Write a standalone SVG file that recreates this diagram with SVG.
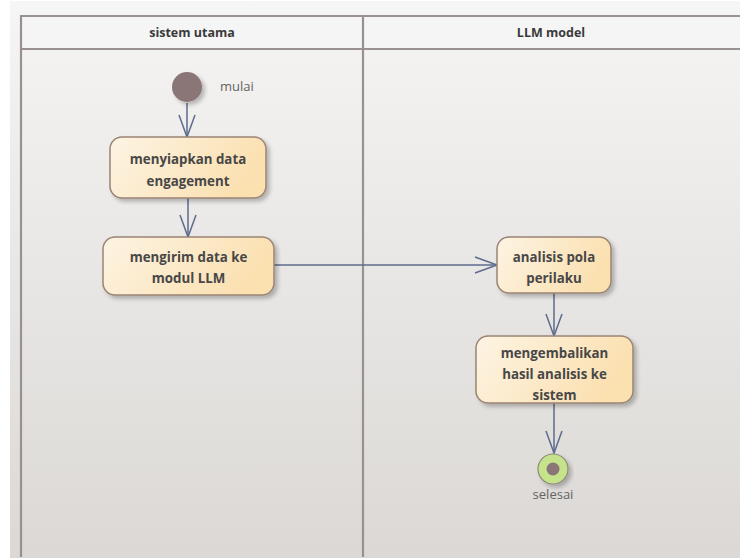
<svg xmlns="http://www.w3.org/2000/svg" width="740" height="560" viewBox="0 0 740 560">
<defs>
<linearGradient id="bg" x1="0" y1="0" x2="0" y2="1">
<stop offset="0" stop-color="#f6f6f6"/>
<stop offset="0.1" stop-color="#f3f2f1"/>
<stop offset="1" stop-color="#dbd8d5"/>
</linearGradient>
<linearGradient id="act" x1="0" y1="0" x2="1" y2="0.3">
<stop offset="0" stop-color="#fdf4e4"/>
<stop offset="1" stop-color="#fbe0b0"/>
</linearGradient>
<filter id="sh" x="-20%" y="-20%" width="140%" height="150%">
<feGaussianBlur in="SourceAlpha" stdDeviation="2"/>
<feOffset dx="3" dy="3" result="o"/>
<feComponentTransfer><feFuncA type="linear" slope="0.25"/></feComponentTransfer>
<feMerge><feMergeNode/><feMergeNode in="SourceGraphic"/></feMerge>
</filter>
<marker id="arr" markerWidth="26" markerHeight="20" refX="23" refY="10" orient="auto" markerUnits="userSpaceOnUse">
<path d="M1,2 L23,10 L1,18" fill="none" stroke="#5d6b8c" stroke-width="1.5"/>
</marker>
<style>
.lane{stroke:#999090;stroke-width:2.2;fill:none}
.hdr{font-family:"Open Sans","DejaVu Sans",sans-serif;font-size:12.5px;font-weight:bold;fill:#3a3a3a;text-anchor:middle}
.box{fill:url(#act);stroke:#9a8474;stroke-width:1.5}
.lbl{font-family:"Open Sans","DejaVu Sans",sans-serif;font-size:13.3px;font-weight:bold;fill:#474747;text-anchor:middle}
.nm{font-family:"Open Sans","DejaVu Sans",sans-serif;font-size:13px;fill:#636363}
.con{stroke:#5d6b8c;stroke-width:1.5;fill:none;marker-end:url(#arr)}
</style>
</defs>
<rect x="0" y="0" width="740" height="560" fill="#ffffff"/>
<rect x="10" y="1" width="730" height="557" fill="url(#bg)"/>
<rect x="21" y="16" width="719" height="33" fill="#f5f5f5"/>
<g id="lanes">
<line class="lane" x1="21" y1="16" x2="740" y2="16"/>
<line class="lane" x1="21" y1="49" x2="740" y2="49"/>
<line class="lane" x1="21" y1="15" x2="21" y2="557"/>
<line class="lane" x1="363" y1="15" x2="363" y2="557"/>
<text class="hdr" x="192" y="37">sistem utama</text>
<text class="hdr" x="551" y="37">LLM model</text>
</g>
<g id="connectors">
<line class="con" x1="187" y1="103" x2="187" y2="137"/>
<line class="con" x1="188" y1="198" x2="188" y2="237"/>
<line class="con" x1="274" y1="265" x2="497" y2="265"/>
<line class="con" x1="554" y1="293" x2="554" y2="336"/>
<line class="con" x1="554" y1="403" x2="554" y2="453"/>
</g>
<g id="start">
<circle cx="187" cy="87" r="15" fill="#8b7677" filter="url(#sh)"/>
<text class="nm" x="220" y="91">mulai</text>
</g>
<g id="menyiapkan">
<rect class="box" x="110" y="137" width="156" height="61" rx="12" filter="url(#sh)"/>
<text class="lbl" x="188" y="164">menyiapkan data</text>
<text class="lbl" x="188" y="186">engagement</text>
</g>
<g id="mengirim">
<rect class="box" x="103" y="237" width="171" height="58" rx="12" filter="url(#sh)"/>
<text class="lbl" x="188.5" y="262">mengirim data ke</text>
<text class="lbl" x="188.5" y="283">modul LLM</text>
</g>
<g id="analisis">
<rect class="box" x="497" y="237" width="114" height="56" rx="12" filter="url(#sh)"/>
<text class="lbl" x="554" y="262">analisis pola</text>
<text class="lbl" x="554" y="283">perilaku</text>
</g>
<g id="mengembalikan">
<rect class="box" x="476" y="336" width="157" height="67" rx="12" filter="url(#sh)"/>
<text class="lbl" x="554.5" y="358">mengembalikan</text>
<text class="lbl" x="554.5" y="379">hasil analisis ke</text>
<text class="lbl" x="554.5" y="400">sistem</text>
</g>
<g id="end">
<circle cx="553" cy="469" r="15" fill="#c4e38a" stroke="#8c8a7a" stroke-width="1.2" filter="url(#sh)"/>
<circle cx="553" cy="469" r="6.5" fill="#8b7677"/>
<text class="nm" x="553" y="499" text-anchor="middle">selesai</text>
</g>
</svg>
